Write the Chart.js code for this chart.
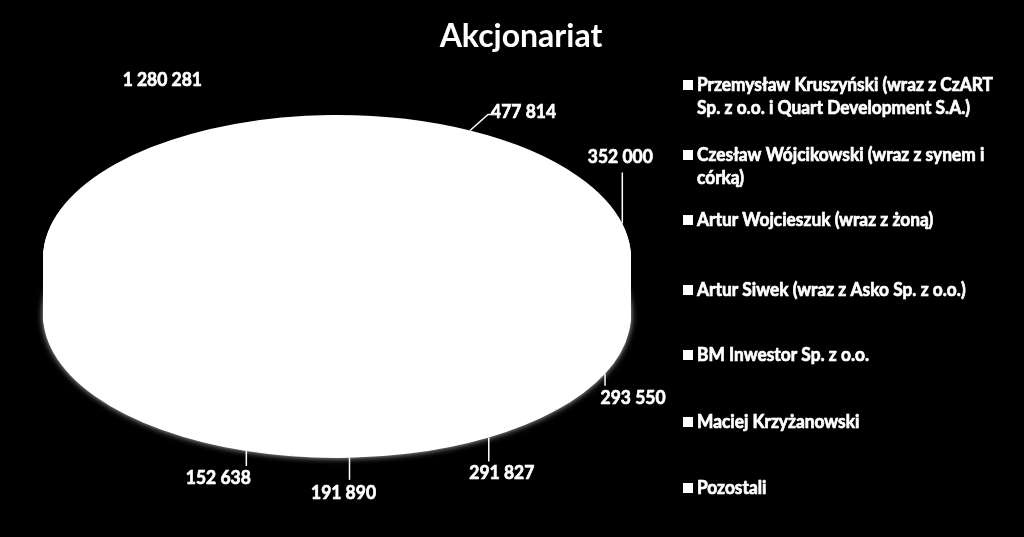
<!DOCTYPE html>
<html>
<head>
<meta charset="utf-8">
<script src="https://cdn.jsdelivr.net/npm/chart.js@4.4.1/dist/chart.umd.min.js"></script>
<style>
  html, body { margin: 0; padding: 0; background: #000; }
  #wrap { width: 1024px; height: 537px; }
</style>
</head>
<body>
<div id="wrap"><canvas id="pieChart" width="1024" height="537"></canvas></div>
<script>
// shareholder structure, values
const chartTitle = "Akcjonariat";
const holders = [
  ["Przemysław Kruszyński (wraz z CzART", "Sp. z o.o. i Quart Development S.A.)"],
  ["Czesław Wójcikowski (wraz z synem i", "córką)"],
  ["Artur Wojcieszuk (wraz z żoną)"],
  ["Artur Siwek (wraz z Asko Sp. z o.o.)"],
  ["BM Inwestor Sp. z o.o."],
  ["Maciej Krzyżanowski"],
  ["Pozostali"],
];
const shares = [1280281, 477814, 352000, 293550, 291827, 191890, 152638];

// look of the fake 3d pie
const PIE = { cx: 337, cy: 258, rx: 294, ry: 143, depth: 57 };
// leader line end (from slice edge) and text spot (from line end)
const labelNudge = [
  { line: null, text: [112, -146] },
  { line: [18, -16], text: [3, -3], align: "left" },
  { line: [0, -51], text: [-2, -16] },
  { line: [0, 12], text: [28, 12] },
  { line: [0, 24], text: [13, 11] },
  { line: [0, 22], text: [-6, 13] },
  { line: [0, 15], text: [-28, 12] },
];
const legendRows = [85, 155, 220, 290, 355, 422, 488];

const fmt = (n) => String(n).replace(/\B(?=(\d{3})+(?!\d))/g, " ");

// excel used calibri bold, squeeze and thicken lato to get the same look
function narrowText(ctx, text, x, y, sx) {
  ctx.save();
  ctx.translate(x, y);
  ctx.scale(sx, 1);
  ctx.lineWidth = 0.7;
  ctx.strokeText(text, 0, 0);
  ctx.fillText(text, 0, 0);
  ctx.restore();
}

// where a slice meets the outline of the squashed pie
function sliceEdge(arc) {
  const mid = (arc.startAngle + arc.endAngle) / 2;
  const s = Math.sin(mid);
  return {
    x: PIE.cx + PIE.rx * Math.cos(mid),
    y: PIE.cy + PIE.ry * s + (s > 0 ? PIE.depth : 0),
  };
}

const pie3d = {
  id: "pie3d",
  beforeDatasetsDraw(chart) {
    const ctx = chart.ctx;
    const arcs = chart.getDatasetMeta(0).data;
    const a0 = arcs[0];
    const squash = (dy) => {
      ctx.translate(PIE.cx, PIE.cy + dy);
      ctx.scale(PIE.rx / a0.outerRadius, PIE.ry / a0.outerRadius);
      ctx.translate(-a0.x, -a0.y);
    };
    // side wall: bottom copy with a soft edge, then layers up to the top
    ctx.save();
    ctx.shadowColor = "rgba(255,255,255,0.75)";
    ctx.shadowBlur = 6;
    squash(PIE.depth);
    arcs.forEach((a) => a.draw(ctx));
    ctx.restore();
    for (let d = PIE.depth - 2; d > 0; d -= 2) {
      ctx.save();
      squash(d);
      arcs.forEach((a) => a.draw(ctx));
      ctx.restore();
    }
    ctx.save();
    squash(0);
  },
  afterDatasetsDraw(chart) {
    chart.ctx.restore();
  },
  afterDraw(chart) {
    const ctx = chart.ctx;
    const arcs = chart.getDatasetMeta(0).data;
    ctx.save();
    ctx.fillStyle = "#fff";
    ctx.strokeStyle = "#fff";
    ctx.lineWidth = 1.5;

    // value labels
    ctx.font = "bold 19px Lato, sans-serif";
    ctx.textBaseline = "middle";
    const labelSx = 65 / ctx.measureText("477 814").width;
    arcs.forEach((arc, i) => {
      const nudge = labelNudge[i];
      const p = sliceEdge(arc);
      let end = p;
      if (nudge.line) {
        end = { x: p.x + nudge.line[0], y: p.y + nudge.line[1] };
        ctx.beginPath();
        ctx.moveTo(p.x, p.y);
        ctx.lineTo(end.x, end.y);
        if (nudge.align === "left") ctx.lineTo(end.x + 4, end.y);
        ctx.stroke();
      }
      ctx.textAlign = nudge.align || "center";
      narrowText(ctx, fmt(chart.data.datasets[0].data[i]), end.x + nudge.text[0], end.y + nudge.text[1], labelSx);
    });

    // legend
    ctx.textAlign = "left";
    ctx.font = "bold 18px Lato, sans-serif";
    const legendSx = 296 / ctx.measureText(chart.data.labels[0][0]).width;
    chart.data.labels.forEach((lines, i) => {
      const y = legendRows[i];
      ctx.fillRect(683, y - 5, 10, 10);
      lines.forEach((t, k) => narrowText(ctx, t, 697, y + k * 23, legendSx));
    });

    // title
    ctx.textAlign = "center";
    ctx.textBaseline = "alphabetic";
    ctx.font = "bold 32px Lato, sans-serif";
    ctx.fillText(chartTitle, 521, 47);
    ctx.restore();
  },
};

new Chart(document.getElementById("pieChart"), {
  type: "pie",
  data: {
    labels: holders,
    datasets: [
      {
        data: shares,
        backgroundColor: "#ffffff",
        borderColor: "#ffffff",
        borderWidth: 0,
        clip: false,
      },
    ],
  },
  options: {
    responsive: false,
    animation: false,
    events: [],
    rotation: -153,
    layout: { padding: { left: 97, right: 447, top: 18, bottom: 39 } },
    plugins: {
      legend: { display: false },
      title: { display: false },
      tooltip: { enabled: false },
    },
  },
  plugins: [pie3d],
});
</script>
</body>
</html>
